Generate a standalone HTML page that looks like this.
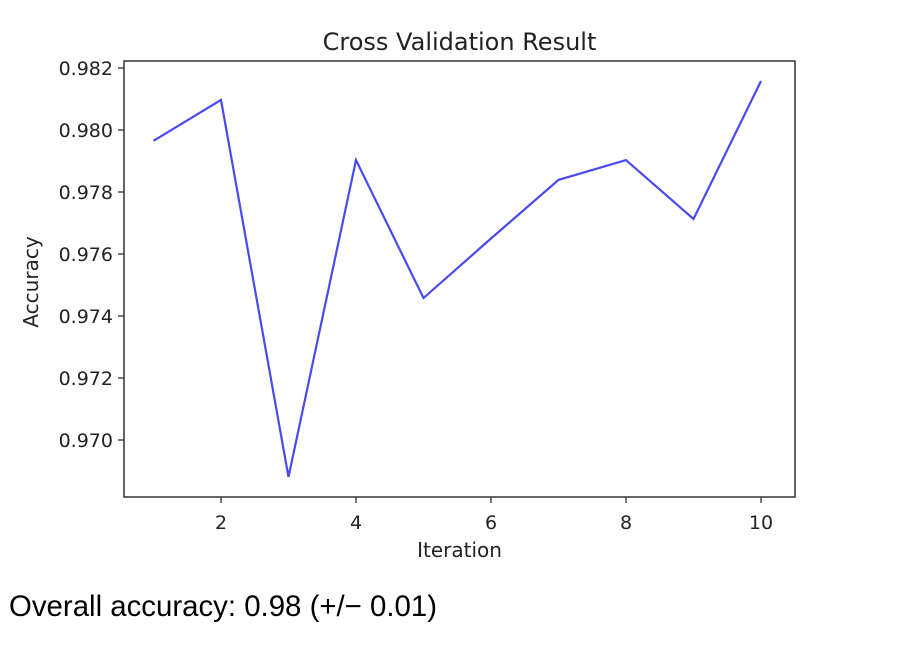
<!DOCTYPE html>
<html><head><meta charset="utf-8"><style>
body{margin:0;width:918px;height:652px;background:#fff;overflow:hidden;font-family:"Liberation Sans",sans-serif}
#foot{position:absolute;left:9px;top:590px;font-size:29.4px;line-height:34px;color:#000;white-space:nowrap}
svg text{font-family:"DejaVu Sans",sans-serif}
</style></head><body>
<svg id="chart" width="918" height="652" style="position:absolute;left:0;top:0"></svg>
<div id="foot">Overall accuracy: 0.98 (+/− 0.01)</div>
<script>
const iterations=[1,2,3,4,5,6,7,8,9,10];
const accuracy=[0.97965,0.98097,0.96881,0.97903,0.97458,0.9765,0.97839,0.97903,0.97713,0.98158];
const yTicks=[0.970,0.972,0.974,0.976,0.978,0.980,0.982];
const xTicks=[2,4,6,8,10];
const L=124,R=795,T=61,B=497;
const xs=v=>221+(v-2)*67.5;
const ys=v=>68+(0.982-v)*31000;
const svg=document.getElementById('chart');
const NS='http://www.w3.org/2000/svg';
function mk(t,a,txt){const e=document.createElementNS(NS,t);for(const k in a)e.setAttribute(k,a[k]);if(txt!=null)e.textContent=txt;svg.appendChild(e);return e;}
const frame=mk('rect',{x:L,y:T,width:R-L,height:B-T,fill:'none',stroke:'#333','stroke-width':1.5});


yTicks.forEach(v=>{const y=ys(v);
const t=mk('line',{x1:L-6,x2:L,y1:y,y2:y,stroke:'#333','stroke-width':1.3});


const l=mk('text',{x:L-11,y:y+7,'text-anchor':'end','font-size':19,fill:'#222'},v.toFixed(3));

});
xTicks.forEach(v=>{const x=xs(v);
const t=mk('line',{x1:x,x2:x,y1:B,y2:B+6,stroke:'#333','stroke-width':1.3});


const l=mk('text',{x:x,y:B+32,'text-anchor':'middle','font-size':19,fill:'#222'},String(v));

});
const pts=iterations.map((v,i)=>xs(v)+','+ys(accuracy[i])).join(' ');
const line=mk('polyline',{points:pts,fill:'none',stroke:'#4a4af0','stroke-width':2.2,'stroke-linejoin':'miter'});


const ti=mk('text',{x:(L+R)/2,y:50,'text-anchor':'middle','font-size':24,fill:'#222'},'Cross Validation Result');


const xt=mk('text',{x:(L+R)/2,y:557,'text-anchor':'middle','font-size':20,fill:'#222'},'Iteration');


const yt=mk('text',{x:0,y:0,'text-anchor':'middle','font-size':20,fill:'#222',transform:'translate(38,'+((T+B)/2+3)+') rotate(-90)'},'Accuracy');


</script>
</body></html>
